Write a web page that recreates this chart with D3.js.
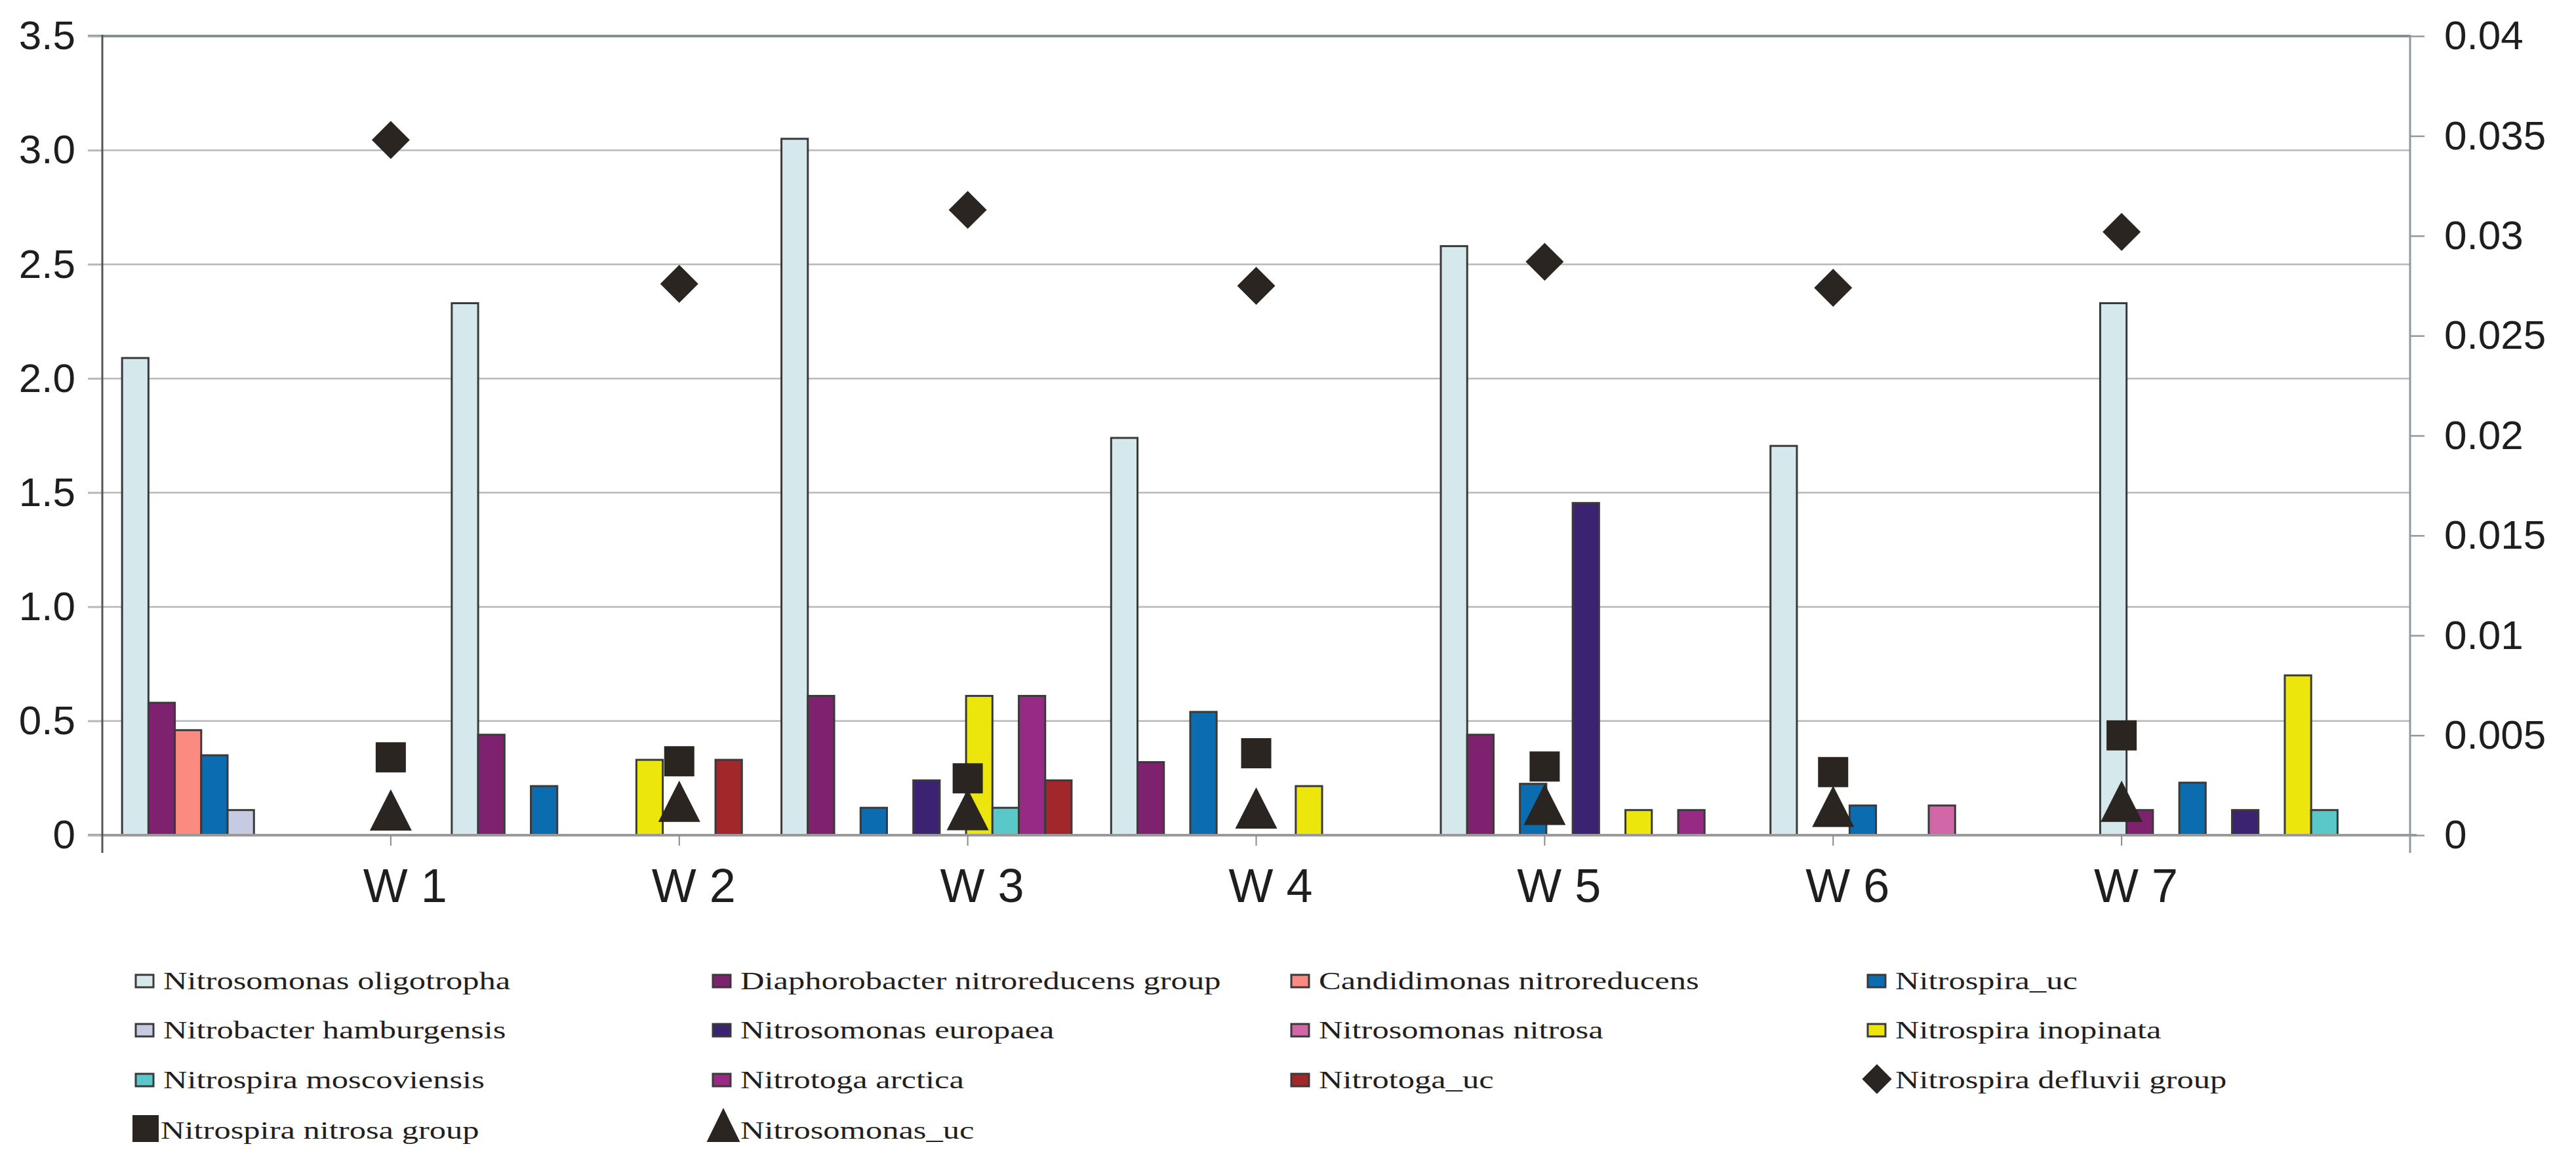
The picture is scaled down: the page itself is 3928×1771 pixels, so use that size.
<!DOCTYPE html>
<html>
<head>
<meta charset="utf-8">
<script src="https://cdn.jsdelivr.net/npm/d3@7"></script>
<style>
  html, body { margin: 0; padding: 0; background: #ffffff; }
  svg { display: block; }
</style>
</head>
<body>
<svg id="chart"></svg>
<script>
// weeks on the x axis
const WEEKS = ['W 1', 'W 2', 'W 3', 'W 4', 'W 5', 'W 6', 'W 7'];

// bar series (left axis)
const SPECIES = [
    'Nitrosomonas oligotropha',
    'Diaphorobacter nitroreducens group',
    'Candidimonas nitroreducens',
    'Nitrospira_uc',
    'Nitrobacter hamburgensis',
    'Nitrosomonas europaea',
    'Nitrosomonas nitrosa',
    'Nitrospira inopinata',
    'Nitrospira moscoviensis',
    'Nitrotoga arctica',
    'Nitrotoga_uc'
];
const SPECIES_COLORS = ['#d5e9ec', '#7e2270', '#fb8a80', '#0c6cb0', '#c6cbe3', '#3b2372',
                        '#d267a8', '#ede60c', '#5ac8c9', '#972a84', '#a2272b'];

const N_OLIGOTROPHA   = [2.09, 2.33, 3.05, 1.74, 2.58, 1.705, 2.33];
const D_NITROREDUCENS = [0.58, 0.44, 0.61, 0.32, 0.44, 0, 0.11];
const C_NITROREDUCENS = [0.46, 0, 0, 0, 0, 0, 0];
const NITROSPIRA_UC   = [0.35, 0.215, 0.12, 0.54, 0.225, 0.13, 0.23];
const N_HAMBURGENSIS  = [0.11, 0, 0, 0, 0, 0, 0];
const N_EUROPAEA      = [0, 0, 0.24, 0, 1.455, 0, 0.11];
const N_NITROSA       = [0, 0, 0, 0, 0, 0.13, 0];
const N_INOPINATA     = [0, 0.33, 0.61, 0.215, 0.11, 0, 0.70];
const N_MOSCOVIENSIS  = [0, 0, 0.12, 0, 0, 0, 0.11];
const N_ARCTICA       = [0, 0, 0.61, 0, 0.11, 0, 0];
const NITROTOGA_UC    = [0, 0.33, 0.24, 0, 0, 0, 0];

const BAR_SERIES = [N_OLIGOTROPHA, D_NITROREDUCENS, C_NITROREDUCENS, NITROSPIRA_UC, N_HAMBURGENSIS,
                    N_EUROPAEA, N_NITROSA, N_INOPINATA, N_MOSCOVIENSIS, N_ARCTICA, NITROTOGA_UC];

// marker series (right axis)
const DEFLUVII_GROUP  = [0.0348, 0.0276, 0.0313, 0.0275, 0.0287, 0.0274, 0.0302];
const NITROSA_GROUP   = [0.0039, 0.0037, 0.00285, 0.0041, 0.00344, 0.00316, 0.0050];
const NITROSOMONAS_UC = [0.00126, 0.0017, 0.00128, 0.00136, 0.00154, 0.00144, 0.0017];

const LEFT_TICKS  = [0, 0.5, 1.0, 1.5, 2.0, 2.5, 3.0, 3.5];
const RIGHT_TICKS = [0, 0.005, 0.01, 0.015, 0.02, 0.025, 0.03, 0.035, 0.04];

const W = 3928, H = 1771;
const X_LEFT = 156, X_RIGHT = 3675, Y_TOP = 55, Y_ZERO = 1274;

const AXIS_FONT = "'Liberation Sans', Arial, sans-serif";
const LEGEND_FONT = "'Liberation Serif', 'Times New Roman', serif";
const MARK = '#2b2522';
const OUTLINE = '#3a3a3a';

const svg = d3.select('#chart')
    .attr('width', W)
    .attr('height', H)
    .attr('viewBox', [0, 0, W, H])
    .style('background', '#fff');

const x0 = d3.scaleBand().domain(WEEKS).range([X_LEFT, X_RIGHT]).paddingInner(0).paddingOuter(0);
const x1 = d3.scaleBand().domain(d3.range(SPECIES.length)).range([0, x0.bandwidth()])
    .paddingInner(0).paddingOuter(0.75);
const xs = d3.scaleLinear().domain([0, WEEKS.length + 1]).range([X_LEFT, X_RIGHT]);
const y = d3.scaleLinear().domain([0, 3.5]).range([Y_ZERO, Y_TOP]);
const y2 = d3.scaleLinear().domain([0, 0.04]).range([Y_ZERO, Y_TOP]);

// gridlines
svg.append('g')
    .selectAll('line')
    .data(LEFT_TICKS.filter(d => d > 0 && d < 3.5))
    .join('line')
    .attr('x1', X_LEFT - 22).attr('x2', X_RIGHT)
    .attr('y1', d => y(d)).attr('y2', d => y(d))
    .attr('stroke', '#b8b8b8')
    .attr('stroke-width', 2.5);

// bars
const gBars = svg.append('g');
BAR_SERIES.forEach((series, si) => {
    gBars.append('g')
        .selectAll('rect')
        .data(series.map((v, i) => ({week: WEEKS[i], v})).filter(d => d.v > 0))
        .join('rect')
        .attr('x', d => x0(d.week) + x1(si))
        .attr('y', d => y(d.v))
        .attr('width', x1.bandwidth())
        .attr('height', d => Y_ZERO - y(d.v))
        .attr('fill', SPECIES_COLORS[si])
        .attr('stroke', OUTLINE)
        .attr('stroke-width', 3);
});

// top border, zero line, axis lines
svg.append('line')
    .attr('x1', X_LEFT - 22).attr('x2', X_RIGHT)
    .attr('y1', y(3.5)).attr('y2', y(3.5))
    .attr('stroke', '#7f8f96').attr('stroke-width', 4);

svg.append('line')
    .attr('x1', X_LEFT - 22).attr('x2', X_RIGHT + 10)
    .attr('y1', Y_ZERO).attr('y2', Y_ZERO)
    .attr('stroke', '#9a9a9a').attr('stroke-width', 4);

// left axis
const axL = svg.append('g')
    .attr('transform', `translate(${X_LEFT},0)`)
    .call(d3.axisLeft(y).tickValues(LEFT_TICKS).tickSize(22).tickPadding(19)
        .tickFormat(d => d === 0 ? '0' : d3.format('.1f')(d)));
axL.select('.domain').remove();
axL.selectAll('.tick line').attr('stroke', '#b8b8b8').attr('stroke-width', 2.5);
axL.selectAll('.tick text')
    .style('font-family', AXIS_FONT).style('font-size', '62px').attr('fill', '#1e1e1e');
svg.append('line')
    .attr('x1', X_LEFT).attr('x2', X_LEFT)
    .attr('y1', Y_TOP - 2).attr('y2', 1301)
    .attr('stroke', '#555').attr('stroke-width', 3);

// right axis
const axR = svg.append('g')
    .attr('transform', `translate(${X_RIGHT},0)`)
    .call(d3.axisRight(y2).tickValues(RIGHT_TICKS).tickSize(22).tickPadding(30)
        .tickFormat(d => d === 0 ? '0' : String(+d.toFixed(3))));
axR.select('.domain').remove();
axR.selectAll('.tick line').attr('stroke', '#8d9aa0').attr('stroke-width', 2.5);
axR.selectAll('.tick text')
    .style('font-family', AXIS_FONT).style('font-size', '62px').attr('fill', '#1e1e1e');
svg.append('line')
    .attr('x1', X_RIGHT).attr('x2', X_RIGHT)
    .attr('y1', Y_TOP - 2).attr('y2', 1301)
    .attr('stroke', '#8d9aa0').attr('stroke-width', 3);

// x axis ticks (scatter positions) and week labels
svg.append('g')
    .selectAll('line')
    .data(d3.range(1, WEEKS.length + 1))
    .join('line')
    .attr('x1', d => xs(d)).attr('x2', d => xs(d))
    .attr('y1', Y_ZERO).attr('y2', Y_ZERO + 16)
    .attr('stroke', '#8a8a8a').attr('stroke-width', 2);

svg.append('g')
    .selectAll('text')
    .data(WEEKS)
    .join('text')
    .attr('x', (d, i) => xs(i + 1) + 22)
    .attr('y', 1376)
    .attr('text-anchor', 'middle')
    .style('font-family', AXIS_FONT)
    .style('font-size', '72px')
    .attr('fill', '#1e1e1e')
    .text(d => d);

// markers
const diamond = d3.symbol().type(d3.symbolSquare).size(41 * 41);
const square = d3.symbol().type(d3.symbolSquare).size(46 * 46);
const tri = (w, h) => `M0,${-h / 2}L${w / 2},${h / 2}L${-w / 2},${h / 2}Z`;

svg.append('g')
    .selectAll('path')
    .data(DEFLUVII_GROUP)
    .join('path')
    .attr('d', diamond)
    .attr('transform', (d, i) => `translate(${xs(i + 1)},${y2(d)}) rotate(45)`)
    .attr('fill', MARK);

svg.append('g')
    .selectAll('path')
    .data(NITROSA_GROUP)
    .join('path')
    .attr('d', square)
    .attr('transform', (d, i) => `translate(${xs(i + 1)},${y2(d)})`)
    .attr('fill', MARK);

svg.append('g')
    .selectAll('path')
    .data(NITROSOMONAS_UC)
    .join('path')
    .attr('d', tri(64, 63))
    .attr('transform', (d, i) => `translate(${xs(i + 1)},${y2(d)})`)
    .attr('fill', MARK);

// legend
const LEG_COLS = [207, 1087, 1969, 2848];
const LEG_ROWS = [1509, 1584, 1660, 1737];
const legendItems = SPECIES.map((name, i) => ({name, kind: 'bar', color: SPECIES_COLORS[i]}))
    .concat([
        {name: 'Nitrospira defluvii group', kind: 'diamond'},
        {name: 'Nitrospira nitrosa group', kind: 'square'},
        {name: 'Nitrosomonas_uc', kind: 'triangle'}
    ]);

const gLeg = svg.append('g');
legendItems.forEach((item, i) => {
    const kx = LEG_COLS[i % 4];
    const by = LEG_ROWS[Math.floor(i / 4)];
    const g = gLeg.append('g');
    if (item.kind === 'bar') {
        g.append('rect')
            .attr('x', kx).attr('y', by - 22)
            .attr('width', 27).attr('height', 19)
            .attr('fill', item.color)
            .attr('stroke', OUTLINE).attr('stroke-width', 3);
    } else if (item.kind === 'diamond') {
        g.append('path')
            .attr('d', d3.symbol().type(d3.symbolSquare).size(32 * 32))
            .attr('transform', `translate(${kx + 14},${by - 14}) rotate(45)`)
            .attr('fill', MARK);
    } else if (item.kind === 'square') {
        g.append('rect')
            .attr('x', kx - 5).attr('y', by - 36)
            .attr('width', 40).attr('height', 41)
            .attr('fill', MARK);
    } else {
        g.append('path')
            .attr('d', tri(51, 52))
            .attr('transform', `translate(${kx + 16},${by - 21})`)
            .attr('fill', MARK);
    }
    const tx = item.kind === 'square' ? kx + 38 : kx + 42;
    g.append('text')
        .attr('transform', `translate(${tx},${by}) scale(1.33,1)`)
        .style('font-family', LEGEND_FONT)
        .style('font-size', '38px')
        .attr('fill', '#231f20')
        .text(item.name);
});
</script>
</body>
</html>
